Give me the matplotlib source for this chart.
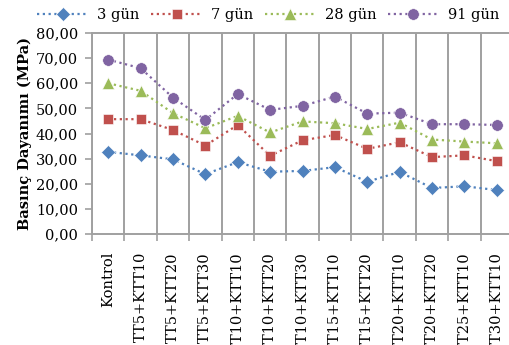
import numpy as np
import matplotlib.pyplot as plt
from matplotlib.ticker import FixedLocator, FuncFormatter

categories = ['Kontrol', 'TT5+KTT10', 'TT5+KTT20', 'TT5+KTT30', 'TT10+KTT10',
              'TT10+KTT20', 'TT10+KTT30', 'TT15+KTT10', 'TT15+KTT20',
              'TT20+KTT10', 'TT20+KTT20', 'TT25+KTT10', 'TT30+KTT10']
gun3 = [32.7, 31.3, 29.7, 23.8, 28.6, 24.8, 25.1, 26.6, 20.8, 24.7, 18.3, 19.0, 17.5]
gun7 = [45.7, 45.7, 41.4, 35.2, 43.4, 31.1, 37.3, 39.4, 33.9, 36.5, 30.6, 31.3, 29.0]
gun28 = [60.0, 57.0, 48.1, 42.1, 47.0, 40.4, 44.8, 44.1, 41.8, 44.3, 37.6, 36.8, 36.1]
gun91 = [69.4, 66.0, 54.3, 45.4, 55.7, 49.4, 51.0, 54.7, 47.9, 48.3, 43.7, 43.7, 43.4]

series = [
    ('3 gün', gun3, '#4F81BD', 'D', 7.0),
    ('7 gün', gun7, '#C0504D', 's', 7.8),
    ('28 gün', gun28, '#9BBB59', '^', 8.5),
    ('91 gün', gun91, '#8064A2', 'o', 8.3),
]

plt.rcParams['font.family'] = 'DejaVu Serif'
grid_col = '#a0a0a0'

fig = plt.figure(figsize=(5.09, 3.45), dpi=100)
ax = fig.add_axes([92 / 509, 1 - 234 / 345, 421 / 509, 201 / 345])

x = np.arange(len(categories))
for name, vals, col, mk, ms in series:
    ax.plot(x, vals, color=col, linestyle=(0, (1, 1.6)), linewidth=1.6,
            marker=mk, markersize=ms, markerfacecolor=col,
            markeredgecolor='white', markeredgewidth=0.4, label=name)

ax.set_xlim(-0.5, len(categories) - 0.5)
ax.set_ylim(0, 80)
ax.set_yticks(np.arange(0, 81, 10))
ax.yaxis.set_major_formatter(FuncFormatter(lambda v, p: f'{v:.2f}'.replace('.', ',')))

ax.set_xticks(x)
ax.set_xticklabels(categories, rotation=90, fontsize=10.5)
ax.xaxis.set_minor_locator(FixedLocator(np.arange(-0.5, len(categories), 1)))
ax.tick_params(axis='x', which='major', length=0, pad=13)
ax.tick_params(axis='x', which='minor', length=5, width=1.2, color=grid_col)
ax.tick_params(axis='y', length=5, width=1.2, color=grid_col, labelsize=10.5, pad=5)
ax.grid(True, axis='x', which='minor', color=grid_col, linewidth=1.4)

for side in ['left', 'bottom', 'top']:
    ax.spines[side].set_color(grid_col)
    ax.spines[side].set_linewidth(1.4)
ax.spines['right'].set_visible(False)

ax.set_ylabel('Basınç Dayanımı (MPa)', fontsize=10.5, fontweight='bold', labelpad=3)

fig.legend(loc='upper center', bbox_to_anchor=(0.527, 1.015), ncol=4,
           frameon=False, fontsize=10.5, handlelength=3.5, handletextpad=0.6,
           columnspacing=0.8)

fig.savefig('out.png', dpi=100)
